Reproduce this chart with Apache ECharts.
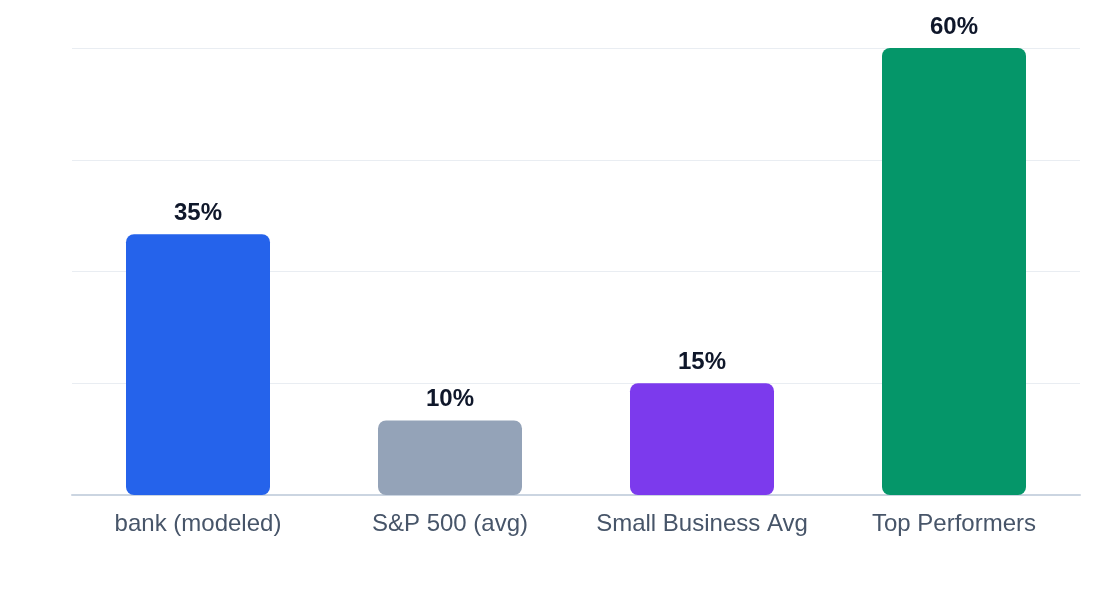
<!DOCTYPE html>
<html lang="en">
  <head>
    <meta charset="UTF-8" />
    <title>return comparison bar</title>
    <script src="https://cdn.jsdelivr.net/npm/echarts@6/dist/echarts.min.js"></script>
    <style>
      html, body { margin: 0; padding: 0; background: #fff; }
      #chart { width: 1120px; height: 600px; }
    </style>
  </head>
  <body>
    <div id="chart"></div>
    <script>
      var categories = ['bank (modeled)', 'S&P 500 (avg)', 'Small Business Avg', 'Top Performers'];
      var returnValues = [35, 10, 15, 60];
      var barColors = ['#2563eb', '#94a3b8', '#7c3aed', '#059669'];

      var chart = echarts.init(document.getElementById('chart'));

      var chartOption = {
        animation: false,
        textStyle: { fontFamily: 'Liberation Sans, Arial, sans-serif' },
        grid: { left: 72, right: 40, top: 48, bottom: 105 },
        xAxis: {
          type: 'category',
          data: categories,
          axisTick: { show: false },
          axisLine: { lineStyle: { color: '#cbd5e1', width: 2 } },
          axisLabel: { color: '#475569', fontSize: 24, margin: 17, interval: 0 }
        },
        yAxis: {
          type: 'value',
          min: 0,
          max: 60,
          interval: 15,
          axisLabel: { show: false },
          axisLine: { show: false },
          axisTick: { show: false },
          splitLine: { lineStyle: { color: '#e9edf2', width: 1 } }
        },
        series: [
          {
            type: 'bar',
            barWidth: 144,
            data: returnValues.map(function (v, i) {
              return { value: v, itemStyle: { color: barColors[i] } };
            }),
            itemStyle: { borderRadius: [8, 8, 8, 8] },
            label: {
              show: true,
              position: 'top',
              distance: 9,
              formatter: '{c}%',
              color: '#0f172a',
              fontSize: 24,
              fontWeight: 'bold'
            }
          }
        ]
      };

      chart.setOption(chartOption);
    </script>
  </body>
</html>
